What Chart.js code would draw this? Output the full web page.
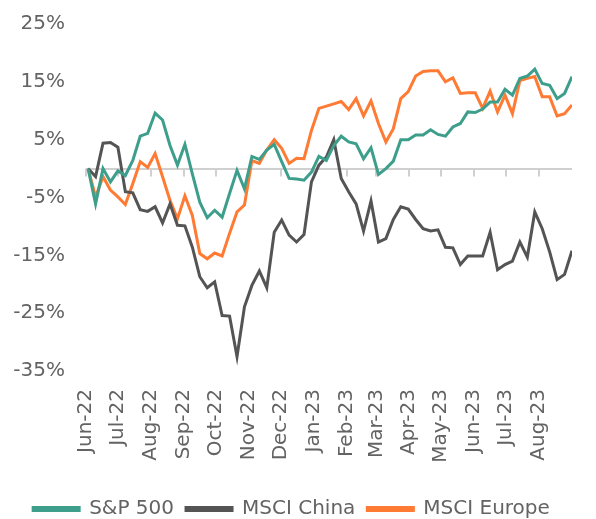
<!DOCTYPE html>
<html>
<head>
<meta charset="utf-8">
<script src="https://cdn.jsdelivr.net/npm/chart.js@4.4.1/dist/chart.umd.min.js"></script>
<style>
  html, body { margin: 0; padding: 0; background: #fff; }
  #wrap { width: 596px; height: 519px; position: relative; }
</style>
</head>
<body>
<div id="wrap"><canvas id="chart"></canvas></div>
<script>
// Cumulative returns, weekly, Jun-22 .. Aug-23
const monthLabels = ['Jun-22', 'Jul-22', 'Aug-22', 'Sep-22', 'Oct-22', 'Nov-22', 'Dec-22',
    'Jan-23', 'Feb-23', 'Mar-23', 'Apr-23', 'May-23', 'Jun-23', 'Jul-23', 'Aug-23'];

const sp500 = [0, -6.1, 0, -2.3, -0.4, -1.2, 1.4, 5.6, 6.1, 9.6,
    8.4, 4.0, 0.6, 4.2, -0.9, -5.8, -8.5, -7.2, -8.4, -4.3,
    -0.3, -3.5, 2.1, 1.6, 3.2, 4.2, 1.2, -1.7, -1.8, -2.0,
    -0.6, 2.1, 1.4, 4.0, 5.6, 4.6, 4.3, 1.7, 3.6, -1.0,
    0, 1.3, 5.0, 5.0, 5.8, 5.8, 6.7, 5.9, 5.6, 7.2,
    7.8, 9.8, 9.7, 10.3, 11.5, 11.5, 13.7, 12.7, 15.6, 16.0,
    17.2, 14.7, 14.4, 12.1, 13.0, 15.9];

const msciChina = [0, -1.4, 4.4, 4.5, 3.7, -4.0, -4.2, -7.1, -7.4, -6.6,
    -9.4, -6.1, -9.8, -9.9, -13.6, -18.7, -20.6, -19.6, -25.4, -25.5,
    -32.5, -23.9, -20.2, -17.7, -20.6, -11.0, -8.9, -11.5, -12.7, -11.4,
    -2.3, 0.6, 2.0, 5.0, -1.7, -4.0, -6.1, -10.8, -5.6, -12.7,
    -12.1, -8.8, -6.6, -7.0, -8.8, -10.4, -10.8, -10.6, -13.6, -13.7,
    -16.6, -15.1, -15.1, -15.1, -11.0, -17.5, -16.6, -16.0, -12.7, -15.3,
    -7.5, -10.4, -14.4, -19.2, -18.3, -14.2];

const msciEurope = [0, -4.9, -1.4, -3.7, -4.9, -6.2, -2.6, 1.2, 0.2, 2.6,
    -1.4, -5.5, -8.7, -4.7, -8.1, -14.7, -15.6, -14.6, -15.1, -11.2,
    -7.5, -6.3, 1.4, 0.9, 3.2, 5.0, 3.5, 0.9, 1.8, 1.7,
    6.6, 10.4, 10.8, 11.2, 11.6, 10.2, 12.1, 9.1, 11.7, 7.8,
    4.6, 6.9, 12.1, 13.3, 16.0, 16.8, 16.9, 16.9, 15.0, 15.7,
    13.0, 13.1, 13.1, 10.4, 13.4, 9.8, 12.7, 9.5, 15.2, 15.6,
    15.9, 12.4, 12.4, 9.1, 9.5, 11.0];

// 0 is kept as a tick only for the zero line, it gets no label
const yTicks = [-35, -25, -15, -5, 0, 5, 15, 25];

// x axis in days since 1 Jun 2022; first observation Fri 3 Jun 2022, weekly
const DAY = 86400000;
const origin = Date.UTC(2022, 5, 1);
const firstObs = Date.UTC(2022, 5, 3);
const weekDays = sp500.map((_, i) => (firstObs - origin) / DAY + i * 7);
const monthDays = monthLabels.map((_, i) => (Date.UTC(2022, 5 + i, 1) - origin) / DAY);
const xMax = weekDays[weekDays.length - 1];

const toPoints = vals => vals.map((v, i) => ({ x: weekDays[i], y: v }));

const TEXT = '#636363';
const AXIS_GREY = '#d0d0d0';
const FONT = { family: '"DejaVu Sans", sans-serif', size: 20 };

const series = [
    { label: 'S&P 500', data: sp500, color: '#3d9f8b' },
    { label: 'MSCI China', data: msciChina, color: '#545454' },
    { label: 'MSCI Europe', data: msciEurope, color: '#ff7a33' },
];

// small month notches hanging under the zero line
const zeroNotches = {
    id: 'zeroNotches',
    beforeDatasetsDraw(chart) {
        const { ctx, scales: { x, y } } = chart;
        const y0 = y.getPixelForValue(0);
        ctx.save();
        ctx.strokeStyle = AXIS_GREY;
        ctx.lineWidth = 2;
        ctx.beginPath();
        monthDays.forEach(d => {
            const px = Math.round(x.getPixelForValue(d));
            ctx.moveTo(px, y0);
            ctx.lineTo(px, y0 + 8);
        });
        ctx.stroke();
        ctx.restore();
    },
};

new Chart(document.getElementById('chart'), {
    type: 'line',
    data: {
        datasets: series.map(s => ({
            label: s.label,
            data: toPoints(s.data),
            borderColor: s.color,
            backgroundColor: s.color,
            borderWidth: 3,
            pointRadius: 0,
            tension: 0,
        })),
    },
    plugins: [zeroNotches],
    options: {
        responsive: true,
        maintainAspectRatio: false,
        animation: false,
        layout: { padding: { top: 24, right: 24, bottom: -10, left: 11 } },
        plugins: {
            legend: {
                position: 'bottom',
                labels: {
                    color: TEXT,
                    font: FONT,
                    boxWidth: 46,
                    boxHeight: 3,
                    padding: 12,
                },
            },
            tooltip: { enabled: false },
        },
        scales: {
            x: {
                type: 'linear',
                min: 0,
                max: xMax,
                afterBuildTicks: axis => { axis.ticks = monthDays.map(v => ({ value: v })); },
                afterFit: axis => {
                    axis.height = 116;
                    axis.paddingLeft = 0;
                    axis.paddingRight = 0;
                },
                ticks: {
                    color: TEXT,
                    font: FONT,
                    minRotation: 90,
                    maxRotation: 90,
                    autoSkip: false,
                    padding: 18,
                    callback: v => monthLabels[monthDays.indexOf(v)] ?? '',
                },
                grid: { display: false, drawTicks: false },
                border: { display: false },
            },
            y: {
                min: -35,
                max: 25,
                afterBuildTicks: axis => { axis.ticks = yTicks.map(v => ({ value: v })); },
                afterFit: axis => {
                    axis.width = 75;
                    axis.paddingTop = 0;
                    axis.paddingBottom = 0;
                },
                ticks: {
                    color: TEXT,
                    font: FONT,
                    padding: 21,
                    callback: v => (v === 0 ? '' : v + '%'),
                },
                grid: {
                    drawTicks: false,
                    lineWidth: 2,
                    color: c => (c.tick && c.tick.value === 0 ? AXIS_GREY : 'rgba(0,0,0,0)'),
                },
                border: { display: false },
            },
        },
    },
});
</script>
</body>
</html>
